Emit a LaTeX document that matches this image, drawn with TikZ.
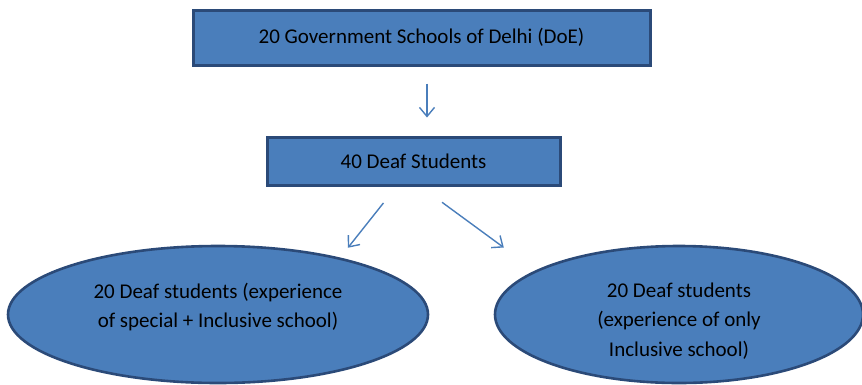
\documentclass[tikz,border=0pt]{standalone}
\usepackage{xcolor}
\usepackage{fontspec}
\setmainfont{Carlito}
\usepackage{tikz}
\usetikzlibrary{arrows.meta, shapes.geometric}

\definecolor{boxfill}{HTML}{4A7EBB}
\definecolor{boxline}{HTML}{2B4A78}

\begin{document}
\begin{tikzpicture}[
            x=1pt, y=-1pt,
            font=\fontsize{21}{29.5}\selectfont,
            box/.style = {rectangle, draw=boxline, fill=boxfill, line width=3pt,
                         inner sep=0pt},
            group/.style = {ellipse, draw=boxline, fill=boxfill, line width=2.6pt,
                         inner sep=0pt},
            txt/.style = {align=center, inner sep=0pt},
            every edge/.style = {draw=boxfill, line width=1.4pt,
                         -{Straight Barb[length=9pt, width=15pt]}}
        ]
            \useasboundingbox (0,0) rectangle (862,384);

            \node (doe) at (421.5,37.5) [box, minimum width=457pt, minimum height=55pt]
                {20 Government Schools of Delhi (DoE)};
            \node (deaf) at (413.5,161) [box, minimum width=293pt, minimum height=48pt]
                {40 Deaf Students};
            \node (special) at (218,314.5) [group, minimum width=420pt, minimum height=137pt] {};
            \node (inclusive) at (679,314.5) [group, minimum width=368pt, minimum height=137pt] {};

            \node (specialtxt) at (218,307) [txt]
                {20 Deaf students (experience\\of special + Inclusive school)};
            \node (inclusivetxt) at (679,321) [txt]
                {20 Deaf students\\(experience of only\\Inclusive school)};

            %
            \path   ([xshift=5.5pt]doe.south) edge[shorten <=17pt, shorten >=18pt] ([xshift=13.5pt]deaf.north)
                    ([xshift=-17pt]deaf.south) edge[shorten <=21pt, shorten >=12.5pt] (special.25.9)
                    ([xshift=7pt]deaf.south) edge[shorten <=26.7pt, shorten >=38.9pt] (inclusive.163.2);
        \end{tikzpicture}
\end{document}
